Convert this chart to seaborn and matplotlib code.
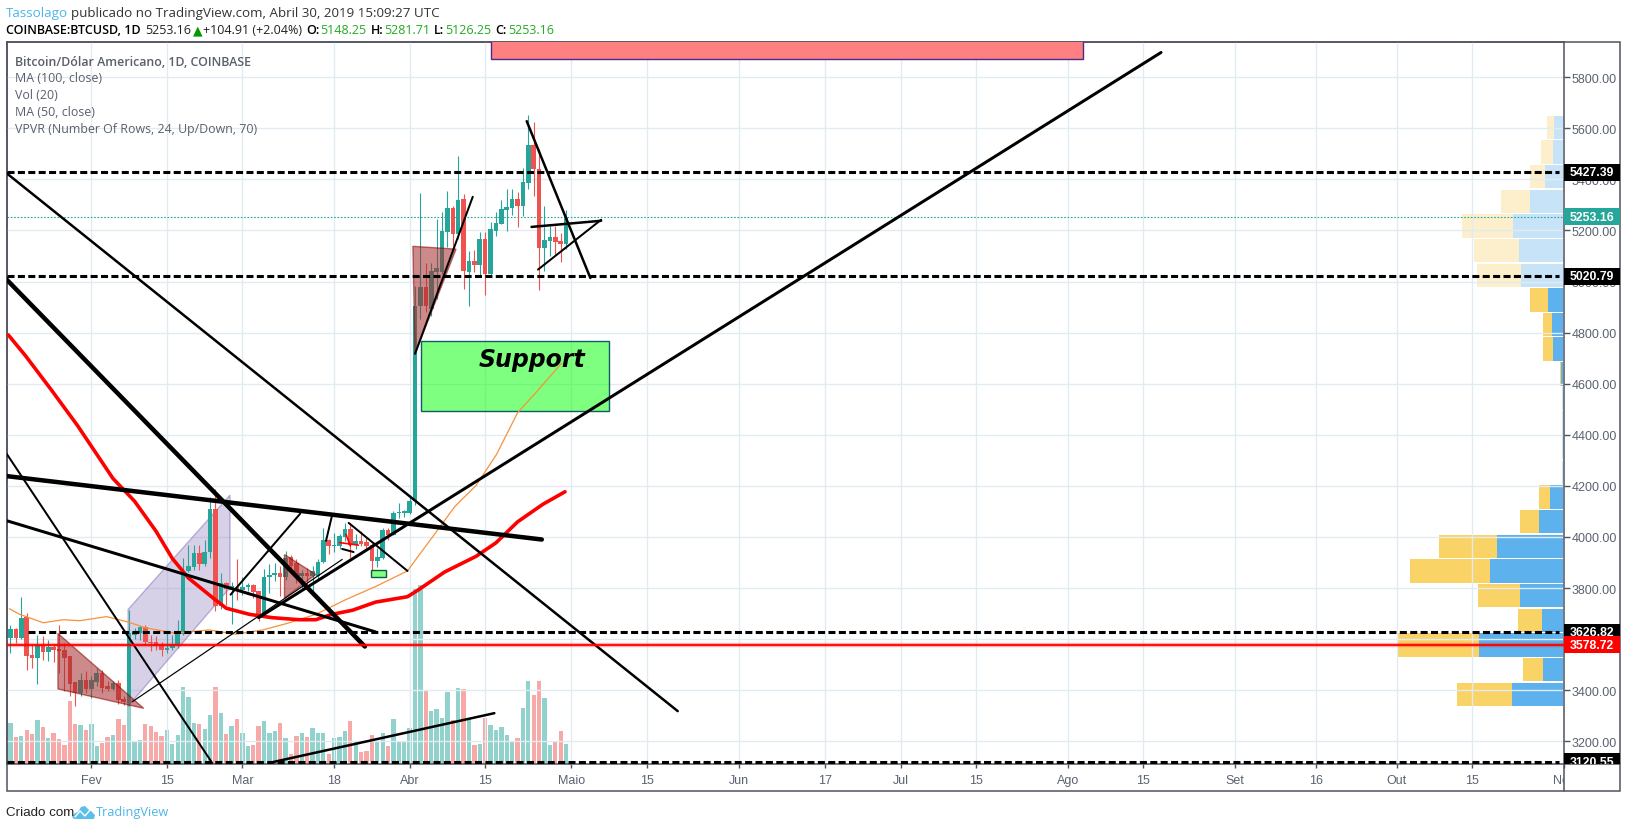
import numpy as np
import pandas as pd
import seaborn as sns
import matplotlib
matplotlib.use("Agg")
import matplotlib.pyplot as plt
from matplotlib.patches import Polygon, Rectangle
from matplotlib.transforms import Bbox, TransformedBbox

W, H = 1627, 829

# daily candles, day 0 = 1 Feb 2019
first_day = -15
opens = [3606,3640,3606,3687,3538,3528,3577,3551,3569,3562,3556,3533,3434,3389,3438,3405,3434,3468,3418,3405,
         3428,3367,3350,3616,3624,3648,3590,3589,3577,3559,3564,3575,3619,3866,3883,3938,3896,3940,4111,3731,
         3818,3791,3804,3791,3804,3810,3787,3696,3844,3851,3857,3844,3922,3898,3846,3859,3846,3849,3901,3990,
         3964,3966,4000,4032,3970,3986,3982,3970,3904,3918,4026,4009,4092,4094,4092,4139,4904,4978,4892,5037,
         5037,5195,5288,5186,5323,5038,5080,5065,5166,5029,5198,5225,5280,5288,5323,5297,5386,5535,5441,5131,
         5160,5174,5159,5148]
closes = [3640,3606,3683,3533,3528,3577,3551,3569,3559,3554,3528,3426,3389,3438,3405,3438,3468,3410,3405,3428,
          3363,3353,3622,3627,3648,3588,3585,3572,3559,3567,3582,3624,3866,3888,3938,3896,3943,4111,3731,3818,
          3797,3807,3791,3804,3811,3784,3696,3844,3851,3857,3844,3919,3888,3844,3859,3846,3866,3901,3990,3964,
          3969,4003,4032,3970,3986,3974,3966,3905,3922,4026,4009,4092,4097,4101,4139,4904,4978,4904,5041,5053,
          5198,5288,5186,5319,5041,5080,5065,5166,5029,5206,5229,5284,5292,5323,5297,5390,5535,5441,5131,5163,
          5174,5155,5147,5253]
highs = [3657,3645,3765,3703,3575,3616,3614,3598,3579,3657,3585,3533,3434,3468,3474,3454,3486,3481,3436,3436,
         3441,3376,3713,3644,3650,3654,3618,3611,3590,3624,3618,3676,3918,3970,3970,3970,3990,4157,4186,3859,
         3825,3823,3912,3844,3820,3814,3790,3875,3896,3898,3888,3945,3931,3912,3872,3879,3885,3912,4037,3993,
         4016,4010,4055,4055,4010,4023,3996,3975,3957,4036,4036,4101,4131,4106,4166,4984,5347,5072,5072,5245,
         5274,5355,5295,5492,5343,5119,5123,5193,5193,5232,5271,5319,5362,5362,5349,5443,5652,5624,5519,5294,
         5219,5219,5190,5281]
lows = [3546,3585,3600,3481,3487,3426,3520,3513,3512,3468,3396,3376,3340,3376,3389,3370,3415,3389,3396,3402,
        3347,3343,3337,3601,3598,3579,3552,3559,3533,3546,3559,3565,3618,3862,3872,3870,3888,3918,3709,3718,
        3735,3661,3755,3774,3787,3761,3670,3696,3781,3827,3770,3833,3859,3820,3794,3794,3781,3833,3898,3935,
        3940,3951,3983,3918,3951,3964,3951,3853,3882,3912,3990,4006,4075,4079,4088,4125,4853,4879,4866,4931,
        5029,5134,5140,5166,4971,4905,5038,5016,4948,5016,5177,5225,5199,5260,5212,5255,5362,5336,4967,5041,
        5101,5104,5075,5126]
volumes = [12300,8100,8500,10300,9000,13200,11100,7700,9300,7500,5700,18900,12000,11700,10200,12000,5500,6300,8200,8700,
           13500,11700,21500,6900,7200,12000,11400,9600,8400,10200,6000,8700,23000,20100,12300,12000,10500,14700,23000,15300,
           9000,11400,13500,9300,5300,5700,11400,12900,9300,9900,12300,7800,3000,8400,9300,8100,10800,9300,9300,3000,
           7800,8100,9900,12900,6900,3500,4000,8700,6500,9300,5500,13500,6500,6500,10800,52500,53700,22200,15900,16500,
           13800,21600,13200,22800,22500,13500,5700,6000,13800,11700,10200,11100,8700,6600,7800,16800,24900,20700,24900,19800,
           5700,6600,9900,6000]

# moving averages read at knots
ma100_days = [-15.4,-12.2,-7.4,-2.6,4,8,12,15,18,22.5,25,29.3,33.5,38.5,41.6,44.6,48.4,52.7,58.6,60.7,65.5,71.3,75,79,83.7,87.8]
ma100_vals = [4791,4709,4575,4437,4229,4140,4022,3916,3839,3762,3721,3697,3684,3676,3676,3697,3713,3745,3766,3794,3863,3924,3977,4059,4128,4177]
ma50_days = [-15.2,-13.3,-8.9,-5.2,-2.2,2.8,6.8,10.1,15.6,21.8,26.8,31.8,36.7,41.6,47.1,52.7,58.6,60.7,63.6,67.4,71.3,75.1,79,82.8,87.2]
ma50_vals = [3719,3697,3664,3676,3672,3688,3667,3644,3623,3636,3619,3636,3664,3697,3754,3806,3867,3928,4010,4120,4201,4323,4486,4575,4681]

# volume profile, top row first
vp_top = 5652
vp_row = 96.5
vp_up = [25,30,54,99,150,132,126,45,33,30,4,2,2,2,2,39,70,197,219,129,63,252,60,153]
vp_down = [23,35,45,87,153,135,131,54,27,30,5,0,0,0,0,33,59,175,240,126,72,245,58,165]
vp_faded = [1,1,1,1,1,1,1,0,0,0,0,1,1,1,1,0,0,0,0,0,0,0,0,0]

# drawn trend lines
trend_days = [(-16,108.7),(-16,50.7),(-16,22.4),(-15.6,83.5),(-15.6,52.7),(7.6,46.5),(25.8,38.7),(31,198.3),
              (47.7,58.6),(80.7,92.5),(81.6,94.5),(82.8,94.5),(60,70.7),(32.9,74.7),(43.5,44.6),(46.5,48.6)]
trend_prices = [(5429,3318),(5014,3571),(4335,3115),(4238,3990),(4063,3628),(3355,3912),(3774,4091),(3684,5897),
                (4055,3867),(5628,5014),(5214,5238),(5047,5242),(4717,5332),(3115,3310),(3985,4083),(3953,3941)]
trend_px = [2.5,4.5,2,4.5,3,1.2,2,3,2,2.5,2.5,2,2,2.5,2,2]

level_black = [5427.39,5020.79,3626.82,3120.55]
level_red = 3578.72
last_price = 5253.16

tri_days = [(-6.2,-6.2,9.7),(35.8,35.8,41.6),(59.6,67.6,60)]
tri_prices = [(3622,3405,3329),(3931,3761,3853),(5138,5127,4717)]
channel_days = [6.8,25.7,25.7,6.8]
channel_prices = [3716,4164,3801,3337]

y_ticks = [3200,3400,3600,3800,4000,4200,4400,4600,4800,5000,5200,5400,5600,5800]
x_ticks = [0,14,28,45,59,73,89,103,120,136,150,164,181,195,212,227,242,256,273]
x_labels = ["Fev","15","Mar","18","Abr","15","Maio","15","Jun","17","Jul","15","Ago","15","Set","16","Out","15","Nov"]

TEAL, RED = "#26a69a", "#ef5350"
GRID, AXC, TXT = "#e1ecf2", "#50535e", "#5a6270"

sns.set_style("white")
plt.rcParams["font.family"] = ["Liberation Sans", "DejaVu Sans"]

df = pd.DataFrame({"day": first_day + np.arange(len(opens)), "open": opens, "high": highs,
                   "low": lows, "close": closes, "vol": volumes})
df["up"] = df["close"] >= df["open"]

fig = plt.figure(figsize=(W / 100, H / 100), dpi=100)
left, right, top, bottom = 6.7, 1564, 43, 765
ax = fig.add_axes([left / W, 1 - bottom / H, (right - left) / W, (bottom - top) / H])
ax_vol = ax.twinx()
ax_vp = ax.twiny()
ax_vol.set_zorder(1)
ax_vp.set_zorder(2)
ax.set_zorder(3)
ax.patch.set_visible(False)
ax_vp.patch.set_visible(False)

# volume pane
sns.barplot(data=df, x="day", y="vol", hue="up", palette={True: "#92d2cc", False: "#f7a9a7"},
            native_scale=True, dodge=False, width=0.8, saturation=1, linewidth=0, legend=False, ax=ax_vol)
ax_vol.set_ylim(0, 216600)
ax_vol.axis("off")

# profile on the right, grows leftwards
row_centers = [vp_top - vp_row * (i + 0.5) for i in range(len(vp_up))]
for c, up, dn, faded in zip(row_centers, vp_up, vp_down, vp_faded):
    ax_vp.barh(c, up, height=vp_row * 0.95, color="#c6e3f7" if faded else "#5db1ed", linewidth=0)
    ax_vp.barh(c, dn, left=up, height=vp_row * 0.95, color="#fdefcb" if faded else "#fad366", linewidth=0)
ax_vp.set_xlim((right - left) * 3 - 4, -4)
ax_vp.axis("off")

# candles
ax.vlines(df["day"], df["low"], df["high"], colors=[TEAL if u else RED for u in df["up"]], linewidth=0.8, zorder=3)
ax.bar(df["day"], (df["close"] - df["open"]).abs(), bottom=df[["open", "close"]].min(axis=1), width=0.85,
       color=[TEAL if u else RED for u in df["up"]], linewidth=0, zorder=3)

sns.lineplot(x=ma50_days, y=ma50_vals, color="#f7913a", linewidth=0.9, sort=False, ax=ax, zorder=4)
sns.lineplot(x=ma100_days, y=ma100_vals, color="#ff0000", linewidth=2.6, sort=False, ax=ax, zorder=4)

# drawings
ax.add_patch(Polygon(list(zip(channel_days, channel_prices)), closed=True, facecolor="#9c8cc4", alpha=0.4,
                     edgecolor="#6a4fa8", linewidth=1, zorder=2))
for d, p in zip(tri_days, tri_prices):
    ax.add_patch(Polygon(list(zip(d, p)), closed=True, facecolor="#a52a2a", edgecolor="#8b0000", alpha=0.55,
                         linewidth=1, zorder=4))
ax.add_patch(Rectangle((61.1, 4493), 34.9, 274, facecolor="#00ff00", alpha=0.5, edgecolor="none", zorder=3.5))
ax.add_patch(Rectangle((61.1, 4493), 34.9, 274, facecolor="none", edgecolor="#0f5c66", linewidth=1, zorder=3.5))
ax.add_patch(Rectangle((74, 5873), 109.9, 120, facecolor="#ff8080", edgecolor="#4b2a8c", linewidth=1, zorder=3.5))
ax.add_patch(Rectangle((51.8, 3844), 2.9, 26, facecolor="#80ff80", edgecolor="#0f5c46", linewidth=1, zorder=5))
ax.text(71.8, 4669, "Support", family="DejaVu Sans", fontsize=17, fontweight="bold", fontstyle="oblique",
        color="black", zorder=3.8)

for d, p, w in zip(trend_days, trend_prices, trend_px):
    ax.plot(d, p, color="black", linewidth=w * 0.72, solid_capstyle="round", zorder=5)
ax.plot((46, 49.5), (3978, 3968), color="red", linewidth=1.2, zorder=5)
ax.plot((47.2, 48), (4010, 3965), color="red", linewidth=1.2, zorder=5)

for lv in level_black:
    ax.plot([-11.8 if lv == 3626.82 else -15.7, 272.1], [lv, lv], color="black", linewidth=2.2,
            dashes=(2.3, 1.1), zorder=6)
ax.axhline(level_red, color="red", linewidth=3.2, alpha=0.3, zorder=5)
ax.axhline(level_red, color="red", linewidth=1.3, zorder=5)
ax.axhline(last_price, color=TEAL, linewidth=0.8, linestyle=(0, (1.5, 1.5)), zorder=2)

ax.set_xlim(-15.7, 272.1)
ax_vol.set_xlim(-15.7, 272.1)
ax.set_ylim(3111, 5938)
ax.set_yticks(y_ticks)
ax.set_yticklabels([f"{v:.2f}" for v in y_ticks])
ax.yaxis.tick_right()
ax.set_xticks(x_ticks)
ax.set_xticklabels(x_labels)
ax.grid(True, color=GRID, linewidth=1)
ax.set_axisbelow(True)
ax.tick_params(axis="y", length=4, width=1, color=AXC, labelcolor=TXT, labelsize=9, pad=1.5, right=True)
ax.tick_params(axis="x", length=3, width=1, color=AXC, labelcolor=TXT, labelsize=9, pad=4, bottom=True)
for s in ax.spines.values():
    s.set_color(AXC)
    s.set_linewidth(1.1)
for s in ax_vol.spines.values():
    s.set_visible(False)
for s in ax_vp.spines.values():
    s.set_visible(False)
# the last month label runs under the price strip
xl = ax.get_xticklabels()[-1]
xl.set_clip_on(True)
xl.set_clip_box(TransformedBbox(Bbox([[0, 0], [right / W, 1]]), fig.transFigure))

# outer frame
fig.add_artist(Rectangle((left / W, 1 - 792 / H), (1620 - left) / W, (792 - top) / H, transform=fig.transFigure,
                         fill=False, edgecolor=AXC, linewidth=1.1))
fig.add_artist(plt.Line2D([right / W, right / W], [1 - 792 / H, 1 - bottom / H], color=AXC, linewidth=1.1))
fig.add_artist(plt.Line2D([right / W, 1620 / W], [1 - bottom / H, 1 - bottom / H], color=AXC, linewidth=1.1))

# price tags
tags = [(5427.39, "black"), (last_price, TEAL), (5020.79, "black"), (3626.82, "black"), (level_red, "red"), (3120.55, "black")]
tag_clip = TransformedBbox(Bbox([[0, 1 - bottom / H], [1, 1]]), fig.transFigure)
tr = ax.get_yaxis_transform()
for val, col in tags:
    rect = Rectangle((1, val - 33), 56 / (right - left), 66, transform=tr, facecolor=col, edgecolor="none",
                     clip_on=True, zorder=10)
    ax.add_patch(rect)
    rect.set_clip_box(tag_clip)
    t = ax.text(1 + 28 / (right - left), val, f"{val:.2f}", transform=tr, ha="center", va="center", color="white",
                fontsize=8.8, fontweight="bold", zorder=11, clip_on=True)
    t.set_clip_box(tag_clip)

# header and legend texts
fig.canvas.draw()
rend = fig.canvas.get_renderer()
HEAD = ["Open Sans", "DejaVu Sans"]


def write_row(x, y, parts, size):
    for txt, col, weight, gap in parts:
        t = fig.text(x / W, 1 - y / H, txt, color=col, fontweight=weight, fontsize=size, va="center", family=HEAD)
        x = t.get_window_extent(rend).x1 + gap


write_row(6, 13, [("Tassolago", "#4db6e8", "normal", 3),
                  ("publicado no TradingView.com, Abril 30, 2019 15:09:27 UTC", "#333333", "normal", 0)], 9.6)
G2 = "#22ab22"
write_row(6, 31, [("COINBASE:BTCUSD, 1D", "black", "semibold", 5), ("5253.16", "#222222", "normal", 1),
                  ("▲", "#009a00", "normal", 1), ("+104.91 (+2.04%)", "#222222", "normal", 4),
                  ("O:", "black", "semibold", 1), ("5148.25", G2, "normal", 4),
                  ("H:", "black", "semibold", 1), ("5281.71", G2, "normal", 4),
                  ("L:", "black", "semibold", 1), ("5126.25", G2, "normal", 4),
                  ("C:", "black", "semibold", 1), ("5253.16", G2, "normal", 0)], 9)
legend_rows = ["Bitcoin/Dólar Americano, 1D, COINBASE", "MA (100, close)", "Vol (20)", "MA (50, close)",
               "VPVR (Number Of Rows, 24, Up/Down, 70)"]
for i, (row, y) in enumerate(zip(legend_rows, [62, 79, 95.5, 113, 129.6])):
    fig.text(15 / W, 1 - y / H, row, color="#5a5f6a", fontsize=8.9, va="center", family=HEAD,
             fontweight="semibold" if i == 0 else "normal")

# footer
fig.text(6 / W, 1 - 813 / H, "Criado com", color="#222222", fontsize=9.6, va="center", family="Liberation Sans")
fig.text(96 / W, 1 - 813 / H, "TradingView", color="#4db6e8", fontsize=9.2, va="center", family=HEAD)
cloud = [(72, 818), (75, 814), (78, 813), (81, 808), (85, 807), (88, 810), (91, 812), (95, 816), (94, 820), (74, 820)]
fig.add_artist(Polygon([(x / W, 1 - y / H) for x, y in cloud], closed=True, transform=fig.transFigure,
                       facecolor="#5bbfea", edgecolor="none"))
zig = [(75, 818), (80, 812), (85, 817), (90, 811)]
fig.add_artist(plt.Line2D([x / W for x, _ in zig], [1 - y / H for _, y in zig], color="white", linewidth=1))

fig.savefig("out.png", dpi=100, facecolor="white")
